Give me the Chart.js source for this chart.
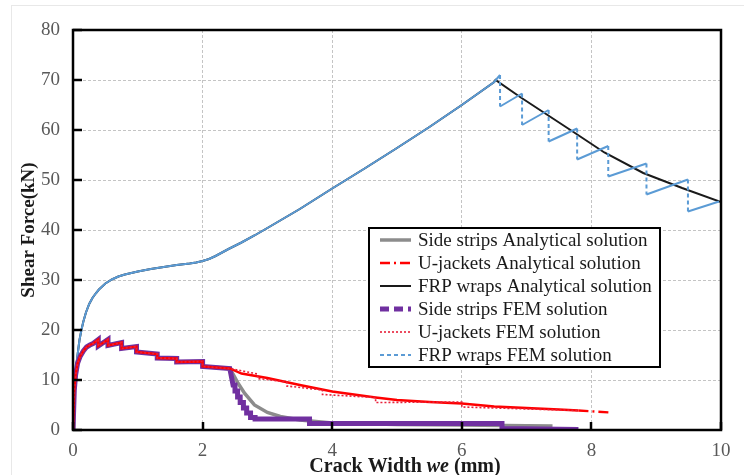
<!DOCTYPE html>
<html><head><meta charset="utf-8">
<script src="https://cdn.jsdelivr.net/npm/chart.js@4.4.0/dist/chart.umd.min.js"></script>
<style>
html,body{margin:0;padding:0;background:#fff;}
#wrap{position:relative;width:744px;height:475px;overflow:hidden;}
#frame{position:absolute;left:11px;top:5px;width:760px;height:490px;border-left:1px solid #e8e8e8;border-top:1px solid #e8e8e8;}
#c{position:absolute;left:0;top:0;}
</style>
</head><body><div id="wrap"><div id="frame"></div><canvas id="c" width="744" height="475"></canvas></div>
<script>
// ---- tick labels ----
const xTickValues = [0, 2, 4, 6, 8, 10];
const yTickValues = [0, 10, 20, 30, 40, 50, 60, 70, 80];

// ---- FRP wraps: shared rising branch ----
const frpRiseX = [0, 0.01, 0.02, 0.04, 0.06, 0.08, 0.1, 0.13, 0.16, 0.2, 0.25, 0.3, 0.35, 0.4, 0.5, 0.6, 0.7, 0.8, 0.9, 1.0, 1.2, 1.4, 1.6, 1.8, 1.9, 2.0, 2.1, 2.2, 2.3, 2.4, 2.6, 2.8, 3.0, 3.5, 4.0, 4.5, 5.0, 5.5, 6.0, 6.5];
const frpRiseY = [0, 4, 8, 11.5, 14, 16, 18, 20, 21.7, 23.5, 25.2, 26.4, 27.3, 28.1, 29.3, 30.1, 30.7, 31.1, 31.4, 31.7, 32.2, 32.6, 33.0, 33.3, 33.5, 33.8, 34.2, 34.8, 35.5, 36.2, 37.5, 38.9, 40.4, 44.2, 48.3, 52.3, 56.4, 60.6, 65.0, 69.6];

// FRP wraps analytical: descending branch
const frpAnaTailX = [6.52, 6.9, 7.3, 7.7, 8.2, 8.8, 9.4, 10.0];
const frpAnaTailY = [70.0, 66.6, 63.2, 59.8, 55.5, 51.4, 48.4, 45.6];

// FRP wraps FEM: sawtooth descending branch
const frpFemTailX = [6.59, 6.59, 6.93, 6.93, 7.34, 7.34, 7.78, 7.78, 8.26, 8.26, 8.85, 8.85, 9.49, 9.49, 9.97];
const frpFemTailY = [71.0, 64.7, 67.3, 61.0, 64.0, 57.7, 60.3, 54.1, 56.8, 50.7, 53.3, 47.1, 50.1, 43.7, 45.7];

// ---- Side strips / U-jackets: shared early branch ----
const lowX = [0, 0.01, 0.02, 0.04, 0.07, 0.11, 0.16, 0.21, 0.26, 0.31, 0.39, 0.39, 0.54, 0.54, 0.75, 0.75, 0.98, 0.98, 1.3, 1.3, 1.6, 1.6, 2.0, 2.0, 2.42];
const lowY = [0, 4, 8, 11, 13.3, 14.7, 15.8, 16.6, 17.0, 17.3, 18.1, 16.8, 18.1, 16.9, 17.5, 16.3, 16.7, 15.6, 15.2, 14.4, 14.3, 13.6, 13.7, 12.7, 12.3];

// Side strips analytical tail
const sideAnaTailX = [2.47, 2.55, 2.65, 2.8, 3.0, 3.2, 3.5, 4.0, 5.0, 6.0, 7.0, 7.4];
const sideAnaTailY = [11.2, 9.3, 7.3, 5.0, 3.5, 2.7, 2.0, 1.4, 1.1, 1.0, 0.85, 0.8];

// Side strips FEM tail (staircase)
const sideFemTailX = [2.47, 2.50, 2.50, 2.54, 2.54, 2.58, 2.58, 2.63, 2.63, 2.68, 2.68, 2.74, 2.74, 2.81, 2.81, 3.65, 3.65, 6.62, 6.62, 7.8];
const sideFemTailY = [9.0, 9.0, 7.8, 7.8, 6.6, 6.6, 5.5, 5.5, 4.4, 4.4, 3.4, 3.4, 2.5, 2.5, 2.2, 2.2, 1.3, 1.3, 0.3, 0.1];

// U-jackets analytical tail
const uAnaTailX = [2.6, 3.0, 3.5, 4.0, 4.67, 5.0, 5.5, 6.0, 6.5, 7.0, 7.5, 7.8, 8.3];
const uAnaTailY = [11.3, 10.4, 9.0, 7.7, 6.5, 6.0, 5.6, 5.3, 4.7, 4.4, 4.1, 3.9, 3.5];

// U-jackets FEM tail (sawtooth)
const uFemTailX = [2.85, 2.85, 3.3, 3.3, 3.85, 3.85, 4.67, 4.67, 6.0, 6.0, 7.8];
const uFemTailY = [11.2, 10.3, 9.6, 8.8, 8.0, 7.1, 6.5, 5.5, 5.6, 4.6, 3.9];

const labels = [
  'Side strips Analytical solution',
  'U-jackets Analytical solution',
  'FRP wraps Analytical solution',
  'Side strips FEM solution',
  'U-jackets FEM solution',
  'FRP wraps FEM solution'
];

function pts(xs, ys) { return xs.map((x, i) => ({x: x, y: ys[i]})); }

const vertDash = (dash) => (ctx) => (ctx.p0.parsed.x === ctx.p1.parsed.x ? dash : []);

const datasets = [
  { label: labels[0], data: pts(lowX.concat(sideAnaTailX), lowY.concat(sideAnaTailY)),
    borderColor: '#8c8c8c', borderWidth: 3.5, borderDash: [], order: 3 },
  { label: labels[1], data: pts(lowX.concat(uAnaTailX), lowY.concat(uAnaTailY)),
    borderColor: '#ff0000', borderWidth: 2.4, borderDash: [10, 4, 2, 4], order: 1,
    segment: { borderDash: (ctx) => (ctx.p0.parsed.x >= 7.8 ? [10, 4, 2, 4] : []) } },
  { label: labels[2], data: pts(frpRiseX.concat(frpAnaTailX), frpRiseY.concat(frpAnaTailY)),
    borderColor: '#1a1a1a', borderWidth: 2, borderDash: [], order: 5 },
  { label: labels[3], data: pts(lowX.concat(sideFemTailX), lowY.concat(sideFemTailY)),
    borderColor: '#7030a0', borderWidth: 5, borderDash: [9, 5], order: 2,
    segment: { borderDash: () => [] } },
  { label: labels[4], data: pts(lowX.concat(uFemTailX), lowY.concat(uFemTailY)),
    borderColor: '#e8203a', borderWidth: 1.6, borderDash: [2, 2], order: 0 },
  { label: labels[5], data: pts(frpRiseX.concat(frpFemTailX), frpRiseY.concat(frpFemTailY)),
    borderColor: '#5b9bd5', borderWidth: 2, borderDash: [4, 3], order: 4,
    segment: { borderDash: vertDash([4, 3]) } }
];
datasets.forEach(d => { d.pointRadius = 0; d.tension = 0; d.fill = false; d.borderJoinStyle = 'miter'; });

const decor = {
  id: 'decor',
  afterDatasetsDraw(chart, args, opts) {
    const {ctx, chartArea: a, scales: {x, y}} = chart;
    ctx.save();
    // inward ticks
    ctx.strokeStyle = '#000';
    ctx.lineWidth = 2.5;
    ctx.setLineDash([]);
    y.ticks.forEach(t => {
      const py = Math.round(y.getPixelForValue(t.value));
      ctx.beginPath(); ctx.moveTo(a.left, py); ctx.lineTo(a.left + 9, py); ctx.stroke();
    });
    x.ticks.forEach(t => {
      const px = Math.round(x.getPixelForValue(t.value));
      ctx.beginPath(); ctx.moveTo(px, a.bottom); ctx.lineTo(px, a.bottom - 8); ctx.stroke();
    });
    // plot frame
    ctx.lineWidth = 2.5;
    ctx.strokeRect(a.left, a.top, a.right - a.left, a.bottom - a.top);

    // legend box
    const L = opts.legend;
    ctx.fillStyle = '#fff';
    ctx.fillRect(L.left, L.top, L.width, L.height);
    ctx.lineWidth = 2;
    ctx.strokeStyle = '#000';
    ctx.strokeRect(L.left, L.top, L.width, L.height);
    ctx.font = '19px "Liberation Serif", "Times New Roman", serif';
    ctx.textBaseline = 'middle';
    ctx.textAlign = 'left';
    chart.data.datasets.forEach((d, i) => {
      const cy = L.top + L.firstRow + i * L.rowGap;
      ctx.strokeStyle = d.borderColor;
      ctx.lineWidth = d.borderWidth;
      ctx.setLineDash(d.borderDash || []);
      ctx.lineCap = 'butt';
      ctx.beginPath(); ctx.moveTo(L.left + 11, cy); ctx.lineTo(L.left + 42, cy); ctx.stroke();
      ctx.setLineDash([]);
      ctx.fillStyle = '#1a1a1a';
      ctx.fillText(d.label, L.left + 49, cy + 1);
    });

    // x axis title with italic "we"
    const parts = [
      {t: 'Crack Width ', f: 'bold 20px "Liberation Serif", serif'},
      {t: 'we', f: 'italic bold 20px "Liberation Serif", serif'},
      {t: ' (mm)', f: 'bold 20px "Liberation Serif", serif'}
    ];
    let total = 0;
    parts.forEach(p => { ctx.font = p.f; p.w = ctx.measureText(p.t).width; total += p.w; });
    let cx = (a.left + a.right) / 2 + 8 - total / 2;
    ctx.fillStyle = '#1a1a1a';
    ctx.textBaseline = 'alphabetic';
    parts.forEach(p => { ctx.font = p.f; ctx.fillText(p.t, cx, 472); cx += p.w; });
    ctx.restore();
  }
};

const tickFont = {family: '"Liberation Serif", "Times New Roman", serif', size: 19};

new Chart(document.getElementById('c'), {
  type: 'line',
  data: { datasets: datasets },
  options: {
    responsive: false,
    animation: false,
    devicePixelRatio: 1,
    layout: { padding: { left: 0, top: 30, right: 23, bottom: 0 } },
    plugins: {
      legend: { display: false },
      tooltip: { enabled: false },
      decor: { legend: { left: 369, top: 228, width: 291, height: 139, firstRow: 12, rowGap: 23 } }
    },
    scales: {
      x: {
        type: 'linear', min: 0, max: 10,
        afterBuildTicks: (s) => { s.ticks = xTickValues.map(v => ({value: v})); },
        afterFit: (s) => { s.height = 45; },
        ticks: { color: '#595959', font: tickFont, padding: 10, maxRotation: 0 },
        grid: { color: '#c4c4c4', lineWidth: 1, drawTicks: false },
        border: { display: false, dash: [3, 2] }
      },
      y: {
        type: 'linear', min: 0, max: 80,
        afterBuildTicks: (s) => { s.ticks = yTickValues.map(v => ({value: v})); },
        afterFit: (s) => { s.width = 73; },
        ticks: { color: '#595959', font: tickFont, padding: 13 },
        grid: { color: '#c4c4c4', lineWidth: 1, drawTicks: false },
        border: { display: false, dash: [3, 2] },
        title: { display: true, text: 'Shear Force(kN)', color: '#1a1a1a',
                 font: {family: '"Liberation Serif", "Times New Roman", serif', size: 19, weight: 'bold'},
                 padding: { top: 18, bottom: 0 } }
      }
    }
  },
  plugins: [decor]
});
</script></body></html>
